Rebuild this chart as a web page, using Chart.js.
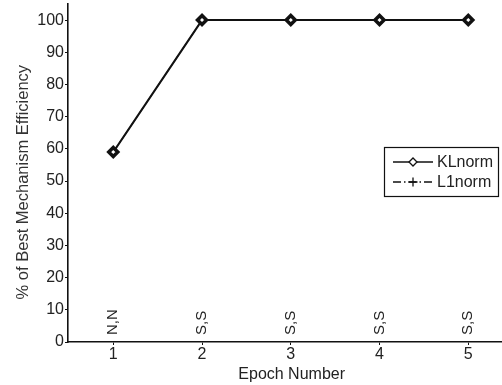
<!DOCTYPE html>
<html>
<head>
<meta charset="utf-8">
<script src="https://cdn.jsdelivr.net/npm/chart.js@4/dist/chart.umd.min.js"></script>
<style>
    html, body { margin: 0; padding: 0; background: #fff; }
    #wrap { width: 502px; height: 385px; }
</style>
</head>
<body>
<div id="wrap"><canvas id="chart" width="502" height="385"></canvas></div>
<script>
// بيانات المخطط
const epochs = [1, 2, 3, 4, 5];
const klNorm = [59, 100, 100, 100, 100];
const l1Norm = [59, 100, 100, 100, 100];
const pointLabels = ['N,N', 'S,S', 'S,S', 'S,S', 'S,S'];
const yTicks = [0, 10, 20, 30, 40, 50, 60, 70, 80, 90, 100];
const xTicks = [1, 2, 3, 4, 5];

const FONT = '"Liberation Sans", Arial, sans-serif';

// نصوص عمودية فوق المحور السفلي
const pointLabelPlugin = {
    id: 'pointLabels',
    afterDatasetsDraw(chart) {
        const ctx = chart.ctx;
        const x = chart.scales.x;
        const y = chart.scales.y;
        ctx.save();
        ctx.fillStyle = '#222';
        ctx.font = '15px ' + FONT;
        ctx.textAlign = 'left';
        ctx.textBaseline = 'middle';
        epochs.forEach((e, i) => {
            ctx.save();
            ctx.translate(x.getPixelForValue(e), y.getPixelForValue(0) - 7);
            ctx.rotate(-Math.PI / 2);
            ctx.fillText(pointLabels[i], 0, 0);
            ctx.restore();
        });
        ctx.restore();
    }
};

// وسيلة الإيضاح داخل منطقة الرسم
const boxLegendPlugin = {
    id: 'boxLegend',
    afterDraw(chart) {
        const ctx = chart.ctx;
        const bx = 384, by = 147, bw = 114, bh = 49;
        ctx.save();
        ctx.fillStyle = '#fff';
        ctx.fillRect(bx, by, bw, bh);
        ctx.strokeStyle = '#111';
        ctx.lineWidth = 1.2;
        ctx.strokeRect(bx + 0.5, by + 0.5, bw, bh);
        ctx.font = '16px ' + FONT;
        ctx.textBaseline = 'middle';
        chart.data.datasets.forEach((ds, i) => {
            const ly = by + 15 + i * 20;
            ctx.beginPath();
            ctx.strokeStyle = '#111';
            ctx.setLineDash(ds.borderDash || []);
            ctx.lineWidth = 1.3;
            ctx.moveTo(bx + 9, ly);
            ctx.lineTo(bx + 49, ly);
            ctx.stroke();
            ctx.setLineDash([]);
            ctx.fillStyle = ds.pointBackgroundColor;
            ctx.strokeStyle = '#111';
            Chart.helpers.drawPoint(ctx, {
                pointStyle: ds.pointStyle,
                radius: ds.pointRadius - 0.5,
                borderWidth: ds.pointBorderWidth - 0.5
            }, bx + 29, ly);
            ctx.fillStyle = '#222';
            ctx.fillText(ds.label, bx + 53, ly + 1);
        });
        ctx.restore();
    }
};

new Chart(document.getElementById('chart').getContext('2d'), {
    type: 'line',
    data: {
        datasets: [{
            label: 'KLnorm',
            data: epochs.map((e, i) => ({ x: e, y: klNorm[i] })),
            borderColor: '#111',
            backgroundColor: '#111',
            pointBackgroundColor: '#fff',
            pointBorderColor: '#111',
            borderWidth: 2,
            pointStyle: 'rectRot',
            pointRadius: 4.5,
            pointBorderWidth: 3.5,
            tension: 0
        }, {
            label: 'L1norm',
            data: epochs.map((e, i) => ({ x: e, y: l1Norm[i] })),
            borderColor: '#444',
            backgroundColor: '#444',
            pointBackgroundColor: '#444',
            borderWidth: 1.2,
            borderDash: [8, 3, 1.5, 3],
            pointStyle: 'cross',
            pointRadius: 5,
            pointBorderWidth: 1.2,
            tension: 0
        }]
    },
    options: {
        responsive: false,
        animation: false,
        layout: { autoPadding: false, padding: { top: 4, right: 0, left: 0, bottom: 0 } },
        plugins: {
            legend: { display: false },
            tooltip: { enabled: false }
        },
        scales: {
            x: {
                type: 'linear',
                min: 0.49,
                max: 5.38,
                afterBuildTicks: s => { s.ticks = xTicks.map(v => ({ value: v })); },
                afterFit: s => { s.height = 43; s.paddingLeft = 0; s.paddingRight = 0; },
                grid: { drawOnChartArea: false, color: '#111', tickLength: 3 },
                border: { color: '#111', width: 1.6 },
                ticks: {
                    color: '#222',
                    font: { family: FONT, size: 16 },
                    padding: 0,
                    maxRotation: 0
                },
                title: {
                    display: true,
                    text: '   Epoch Number',
                    color: '#222',
                    font: { family: FONT, size: 16 },
                    padding: { top: 0, bottom: 1 }
                }
            },
            y: {
                min: 0,
                max: 105,
                afterBuildTicks: s => { s.ticks = yTicks.map(v => ({ value: v })); },
                afterFit: s => { s.width = 68; s.paddingTop = 0; s.paddingBottom = 0; },
                grid: { drawOnChartArea: false, color: '#111', tickLength: 3 },
                border: { color: '#111', width: 1.6 },
                ticks: {
                    color: '#222',
                    font: { family: FONT, size: 16 },
                    padding: 1
                },
                title: {
                    display: true,
                    text: '% of Best Mechanism Efficiency    ',
                    color: '#333',
                    font: { family: FONT, size: 16.5 },
                    padding: { top: 14, bottom: 0 }
                }
            }
        }
    },
    plugins: [pointLabelPlugin, boxLegendPlugin]
});
</script>
</body>
</html>
